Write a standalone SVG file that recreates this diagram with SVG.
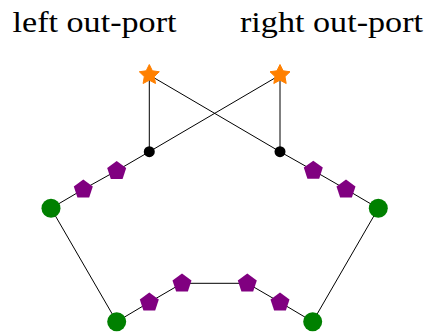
<svg xmlns="http://www.w3.org/2000/svg" xmlns:xlink="http://www.w3.org/1999/xlink" width="428" height="334" viewBox="0 0 428 334">
<style>
.lbl{font-family:"Liberation Serif","DejaVu Serif",serif;font-size:30px;fill:#000}
.edge{stroke:#000;stroke-width:1;fill:none}
.pent{fill:#800080}
.star{fill:#ff8000}
.green{fill:#008000}
.dot{fill:#000}
</style>
<defs>
<polygon id="pentagon" points="0,-10 9.51,-3.09 5.88,8.09 -5.88,8.09 -9.51,-3.09"/>
<polygon id="starshape" points="0,-10.5 3.1,-4.2 10,-3.25 5,1.6 6.2,8.5 0,5.2 -6.2,8.5 -5,1.6 -10,-3.25 -3.1,-4.2" stroke="#ff8000" stroke-width="1" stroke-linejoin="round"/>
</defs>
<g id="labels">
<text class="lbl" x="12.5" y="31.5" textLength="164" lengthAdjust="spacingAndGlyphs">left out-port</text>
<text class="lbl" x="240" y="31.5" textLength="183" lengthAdjust="spacingAndGlyphs">right out-port</text>
</g>
<g id="connectors">
<line class="edge" x1="149.3" y1="75" x2="149.3" y2="151.7"/>
<line class="edge" x1="149.3" y1="75" x2="280" y2="151.7"/>
<line class="edge" x1="280" y1="75" x2="280" y2="151.7"/>
<line class="edge" x1="280" y1="75" x2="149.3" y2="151.7"/>
<polyline class="edge" points="149.3,151.7 116.7,170.7 83.3,189.3 51,208.3 116.7,321.7 149.3,302.3 182,283.3 247.3,283.3 280,302.3 312.7,321.7 378.3,208.3 346,189.3 313.3,170.5 280,151.7"/>
</g>
<g id="star-left"><use xlink:href="#starshape" class="star" x="149.3" y="75"/></g>
<g id="star-right"><use xlink:href="#starshape" class="star" x="280" y="75"/></g>
<g id="port-left"><circle class="dot" cx="149.3" cy="151.7" r="5.5"/></g>
<g id="port-right"><circle class="dot" cx="280" cy="151.7" r="5.5"/></g>
<g id="pent-l2"><use xlink:href="#pentagon" class="pent" x="116.7" y="171"/></g>
<g id="pent-l1"><use xlink:href="#pentagon" class="pent" x="83.3" y="189.5"/></g>
<g id="green-left"><circle class="green" cx="51" cy="208.3" r="9.5"/></g>
<g id="pent-r1"><use xlink:href="#pentagon" class="pent" x="313.3" y="170.7"/></g>
<g id="pent-r2"><use xlink:href="#pentagon" class="pent" x="346" y="189.5"/></g>
<g id="green-right"><circle class="green" cx="378.3" cy="208.3" r="9.5"/></g>
<g id="green-bottom-left"><circle class="green" cx="116.7" cy="321.7" r="9.5"/></g>
<g id="pent-b1"><use xlink:href="#pentagon" class="pent" x="149.3" y="302.5"/></g>
<g id="pent-b2"><use xlink:href="#pentagon" class="pent" x="182" y="283.5"/></g>
<g id="pent-b3"><use xlink:href="#pentagon" class="pent" x="247.3" y="283.5"/></g>
<g id="pent-b4"><use xlink:href="#pentagon" class="pent" x="280" y="302.5"/></g>
<g id="green-bottom-right"><circle class="green" cx="312.7" cy="321.7" r="9.5"/></g>
</svg>
